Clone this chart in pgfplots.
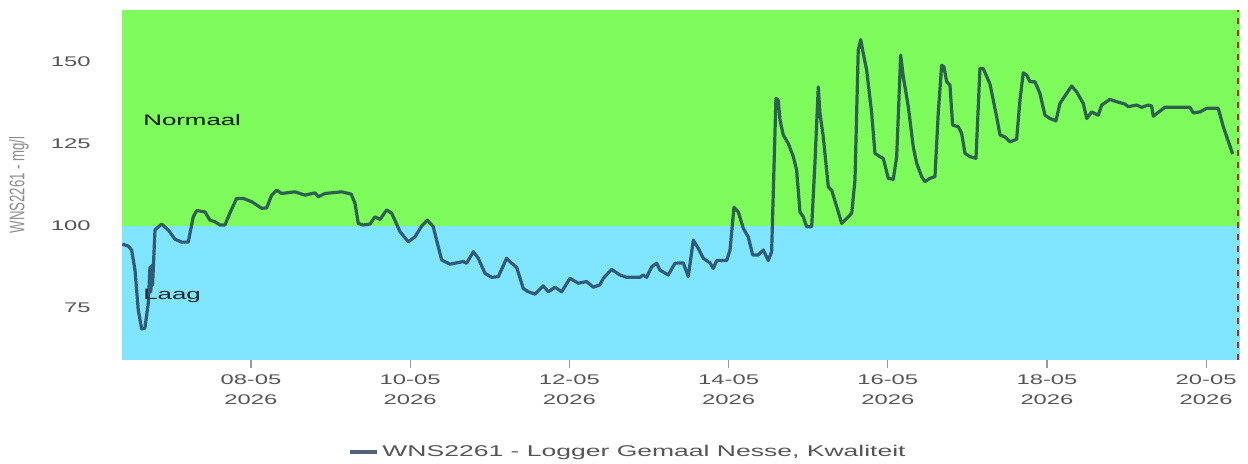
\documentclass[border=0pt]{standalone}
\usepackage{fontspec}
\setmainfont{Liberation Sans}[FakeStretch=1.7]
\newfontfamily\plainsans{Liberation Sans}
\usepackage{graphicx}
\usepackage{pgfplots}
\pgfplotsset{compat=1.18}
\definecolor{bandgreen}{RGB}{126,252,92}
\definecolor{bandblue}{RGB}{128,229,255}
\definecolor{seriescol}{RGB}{20,45,75}
\definecolor{ticktext}{RGB}{85,85,85}
\definecolor{labelgrey}{RGB}{140,140,140}

\pgfplotstableread{
x y
-1.617 94.5
-1.541 93.9
-1.499 92.7
-1.457 86.6
-1.416 74.5
-1.373 68.7
-1.332 69.0
-1.290 76.6
-1.269 87.5
-1.258 80.0
-1.246 88.0
-1.236 82.0
-1.206 98.8
-1.122 100.6
-1.039 98.8
-0.955 96.0
-0.871 95.1
-0.788 95.1
-0.725 102.8
-0.682 104.7
-0.578 104.3
-0.515 101.8
-0.452 101.3
-0.389 100.3
-0.327 100.3
-0.264 104.0
-0.180 108.4
-0.097 108.4
0.009 107.4
0.134 105.4
0.197 105.5
0.260 109.4
0.323 110.9
0.386 109.9
0.553 110.4
0.678 109.4
0.804 110.1
0.845 108.9
0.930 109.9
1.139 110.4
1.259 109.7
1.307 106.9
1.348 100.8
1.411 100.3
1.495 100.6
1.558 102.8
1.621 102.0
1.705 104.9
1.768 103.9
1.872 98.3
1.976 95.2
2.060 96.7
2.145 100.0
2.215 101.8
2.290 99.8
2.353 93.7
2.396 89.7
2.500 88.4
2.563 88.7
2.667 89.2
2.710 88.7
2.793 92.2
2.856 90.2
2.940 85.6
3.024 84.4
3.107 84.6
3.212 90.2
3.275 88.7
3.338 87.4
3.421 81.0
3.484 80.0
3.568 79.3
3.672 81.8
3.735 80.0
3.819 81.4
3.903 80.0
4.008 84.1
4.112 82.6
4.217 83.1
4.300 81.4
4.384 82.1
4.426 84.1
4.531 86.8
4.636 85.1
4.720 84.4
4.887 84.4
4.928 85.1
4.971 84.4
5.034 87.6
5.097 88.7
5.138 86.6
5.242 85.1
5.327 88.7
5.431 88.8
5.494 84.6
5.557 95.7
5.620 93.2
5.682 90.2
5.766 88.8
5.808 87.1
5.851 89.5
5.976 89.5
6.018 92.7
6.068 105.7
6.122 104.3
6.185 99.3
6.247 96.7
6.303 91.2
6.373 91.2
6.436 92.7
6.499 89.5
6.541 92.2
6.595 138.8
6.624 138.3
6.646 132.2
6.687 127.7
6.750 125.1
6.813 121.1
6.855 117.0
6.897 104.3
6.938 102.8
6.981 99.8
7.044 99.8
7.085 119.1
7.127 142.3
7.148 134.3
7.190 127.1
7.253 111.9
7.295 110.9
7.378 104.3
7.421 100.8
7.484 102.3
7.547 103.9
7.588 114.0
7.629 153.5
7.660 156.7
7.692 152.5
7.735 147.4
7.798 134.3
7.839 122.1
7.902 121.1
7.943 120.6
8.006 114.5
8.069 114.2
8.112 121.1
8.162 152.0
8.195 145.4
8.258 136.3
8.320 124.1
8.363 119.1
8.426 115.0
8.467 113.5
8.530 114.5
8.593 115.0
8.634 134.3
8.677 148.9
8.706 148.4
8.740 143.9
8.781 142.9
8.815 130.7
8.886 130.2
8.928 128.2
8.970 122.1
9.033 121.1
9.108 120.6
9.158 147.9
9.199 147.9
9.284 143.2
9.368 133.2
9.410 127.7
9.472 127.1
9.535 125.6
9.619 126.4
9.661 138.3
9.702 146.6
9.745 145.9
9.786 143.9
9.849 143.9
9.912 140.3
9.975 133.7
10.038 132.7
10.113 132.0
10.163 137.3
10.310 142.6
10.373 140.8
10.456 137.3
10.499 132.7
10.562 134.7
10.644 133.7
10.687 136.8
10.791 138.5
10.876 137.8
10.980 137.1
11.021 136.3
11.127 136.8
11.190 136.1
11.272 136.8
11.315 136.5
11.335 133.4
11.482 136.1
11.796 136.1
11.838 134.4
11.922 134.7
12.006 135.8
12.152 135.8
12.215 130.2
12.333 121.9
}\seriesdata

\begin{document}
\begin{tikzpicture}
\useasboundingbox (-60.85pt,-51.5pt) rectangle (563.15pt,180pt);
\begin{axis}[
  at={(0,0)}, anchor=south west,
  scale only axis, width=559.15pt, height=175pt,
  xmin=-1.624, xmax=12.425, ymin=59.25, ymax=165.7,
  axis line style={draw=none},
  xtick={0,2,...,12},
  xticklabels={{08-05\\2026},{10-05\\2026},{12-05\\2026},{14-05\\2026},{16-05\\2026},{18-05\\2026},{20-05\\2026}},
  ytick={75,100,125,150},
  tick align=outside, major tick length=4pt,
  xtick pos=bottom, ytick pos=left,
  xtick style={draw=gray!80, line width=0.6pt},
  ytick style={draw=none},
  /pgf/number format/assume math mode=true,
  ticklabel style={font=\fontsize{7}{10}\selectfont, text=ticktext},
  xticklabel style={align=center},
  yticklabel style={xshift=-8pt},
  ylabel={\scalebox{1}[1.6]{\plainsans\fontsize{6.6}{7}\selectfont WNS2261 - mg/l}},
  ylabel style={at={(rel axis cs:0,0.5)}, anchor=center, yshift=51.35pt, text=labelgrey},
  legend style={at={(0.4536,-0.263)}, anchor=center, draw=none, fill=none,
    font=\fontsize{7.8}{9}\selectfont, text=ticktext},
  legend image code/.code={\draw[#1] (0pt,0pt) -- (13.5pt,0pt);},
]
\addplot[draw=none, fill=bandgreen, forget plot] coordinates {(-1.624,165.7) (12.425,165.7)} \closedcycle;
\addplot[draw=none, fill=bandblue, forget plot] coordinates {(-1.624,100) (12.425,100)} \closedcycle;
\node[anchor=west, inner sep=0pt, font=\fontsize{7.6}{9}\selectfont, text=black!85!green!60!black] at (axis cs:-1.357,132.2) {Normaal};
\node[anchor=west, inner sep=0pt, font=\fontsize{7.6}{9}\selectfont, text=black!85] at (axis cs:-1.357,78.7) {Laag};
\addplot[seriescol, line width=1.6pt, opacity=0.75, line join=round] table[x=x, y=y] {\seriesdata};
\addlegendentry{WNS2261 - Logger Gemaal Nesse, Kwaliteit}
\addplot[red!70!black, dashed, line width=1pt, opacity=0.8, forget plot] coordinates {(12.40,59.25) (12.40,165.7)};
\end{axis}
\end{tikzpicture}
\end{document}
